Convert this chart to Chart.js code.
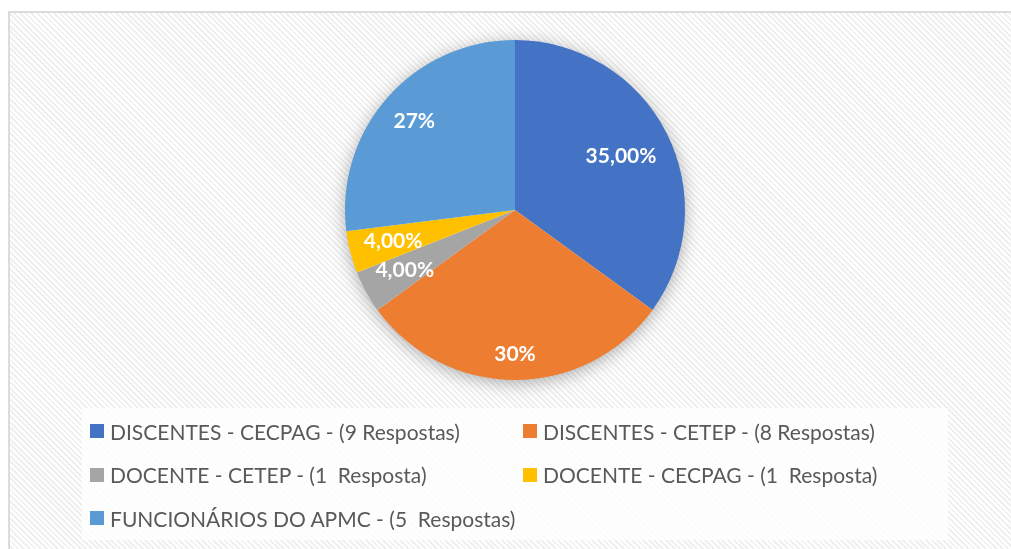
<!DOCTYPE html>
<html>
<head>
<meta charset="utf-8">
<script src="https://cdn.jsdelivr.net/npm/chart.js@4"></script>
<style>
  html, body { margin: 0; padding: 0; background: #fff; }
  body { width: 1011px; height: 549px; position: relative; overflow: hidden; }
  #quadro {
    position: absolute; left: 8px; top: 11px; width: 1010px; height: 560px;
    border: 2px solid #dcdcdc;
    background: repeating-linear-gradient(45deg, #ffffff 0 2px, #f0f0f0 2px 4px);
  }
  #area { position: absolute; left: 0; top: 0; width: 1011px; height: 549px; }
  #legenda {
    position: absolute; left: 82px; top: 408px; width: 866px; height: 132px;
    background: rgba(255,255,255,0.8);
    font-family: Lato, "Noto Sans", sans-serif; font-size: 21px; color: #595959;
  }
  .item { position: absolute; display: flex; align-items: center; white-space: pre; }
  .caixa { width: 14px; height: 14px; margin-right: 6px; }
</style>
</head>
<body>
<div id="quadro"></div>
<div id="area"><canvas id="pizza"></canvas></div>
<div id="legenda"></div>
<script>
const categorias = [
    "DISCENTES - CECPAG - (9 Respostas)",
    "DISCENTES - CETEP - (8 Respostas)",
    "DOCENTE - CETEP - (1  Resposta)",
    "DOCENTE - CECPAG - (1  Resposta)",
    "FUNCIONÁRIOS DO APMC - (5  Respostas)"
];
const valores = [35, 30, 4, 4, 27];
const rotulos = ["35,00%", "30%", "4,00%", "4,00%", "27%"];
const cores = ["#4472C4", "#ED7D31", "#A5A5A5", "#FFC000", "#5B9BD5"];

// distancia do rotulo ao centro (fracao do raio)
const posRotulo = [0.70, 0.85, 0.74, 0.74, 0.79];

const sombra = {
    id: "sombra",
    beforeDatasetsDraw(chart) {
        const arco = chart.getDatasetMeta(0).data[0];
        if (!arco) return;
        const ctx = chart.ctx;
        ctx.save();
        ctx.shadowColor = "rgba(0,0,0,0.35)";
        ctx.shadowBlur = 18;
        ctx.shadowOffsetY = 3;
        ctx.fillStyle = "#fff";
        ctx.beginPath();
        ctx.arc(arco.x, arco.y, arco.outerRadius - 1, 0, Math.PI * 2);
        ctx.fill();
        ctx.restore();
    }
};

const rotulosPlugin = {
    id: "rotulosPlugin",
    afterDatasetsDraw(chart) {
        const ctx = chart.ctx;
        ctx.save();
        ctx.font = "bold 21px Lato, 'Noto Sans', sans-serif";
        ctx.fillStyle = "#fff";
        ctx.textAlign = "center";
        ctx.textBaseline = "middle";
        chart.getDatasetMeta(0).data.forEach((arco, i) => {
            const meio = (arco.startAngle + arco.endAngle) / 2;
            const r = arco.outerRadius * posRotulo[i];
            ctx.fillText(rotulos[i], arco.x + Math.cos(meio) * r, arco.y + Math.sin(meio) * r);
        });
        ctx.restore();
    }
};

const grafico = new Chart(document.getElementById("pizza"), {
    type: "pie",
    data: {
        labels: categorias,
        datasets: [{
            data: valores,
            backgroundColor: cores,
            borderWidth: 0
        }]
    },
    options: {
        responsive: true,
        maintainAspectRatio: false,
        animation: false,
        layout: { padding: { top: 40, bottom: 169, left: 19, right: 0 } },
        plugins: {
            legend: { display: false },
            tooltip: { enabled: false }
        }
    },
    plugins: [sombra, rotulosPlugin]
});

// legenda em html, duas colunas
const legenda = document.getElementById("legenda");
const itens = Chart.overrides.pie.plugins.legend.labels.generateLabels(grafico);
itens.forEach((it, i) => {
    const div = document.createElement("div");
    div.className = "item";
    div.style.left = (i % 2 === 0 ? 8 : 441) + "px";
    div.style.top = (11 + Math.floor(i / 2) * 43.5) + "px";
    div.style.height = "24px";
    const caixa = document.createElement("span");
    caixa.className = "caixa";
    caixa.style.background = it.fillStyle;
    const txt = document.createElement("span");
    txt.textContent = it.text;
    div.appendChild(caixa);
    div.appendChild(txt);
    legenda.appendChild(div);
});
</script>
</body>
</html>
